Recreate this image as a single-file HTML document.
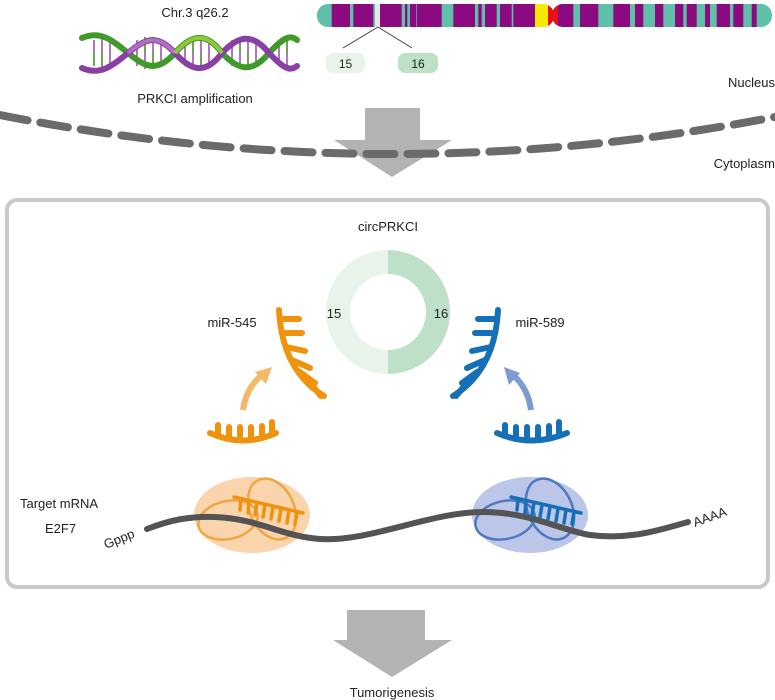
<!DOCTYPE html>
<html><head><meta charset="utf-8"><style>
html,body{margin:0;padding:0;background:#fff;}
svg{display:block;}
text{font-family:"Liberation Sans",Arial,sans-serif;fill:#222;}
</style></head><body>
<svg width="775" height="700" viewBox="0 0 775 700" xmlns="http://www.w3.org/2000/svg">
<!-- Top labels -->
<text x="195" y="17" font-size="13" text-anchor="middle">Chr.3 q26.2</text>
<text x="195" y="103" font-size="13" text-anchor="middle">PRKCI amplification</text>
<text x="775" y="87" font-size="13" text-anchor="end">Nucleus</text>
<text x="775" y="168" font-size="13" text-anchor="end">Cytoplasm</text>

<!-- DNA helix -->
<g stroke-width="1.6">
  <g stroke="#9a55b0">
    <line x1="94" y1="40" x2="94" y2="66"/><line x1="102" y1="37" x2="102" y2="69"/><line x1="110" y1="40" x2="110" y2="66"/>
    <line x1="137" y1="40" x2="137" y2="66"/><line x1="145" y1="37" x2="145" y2="69"/><line x1="153" y1="37" x2="153" y2="69"/><line x1="161" y1="40" x2="161" y2="66"/>
    <line x1="185" y1="40" x2="185" y2="66"/><line x1="193" y1="37" x2="193" y2="69"/><line x1="201" y1="37" x2="201" y2="69"/><line x1="209" y1="40" x2="209" y2="66"/>
    <line x1="232" y1="40" x2="232" y2="66"/><line x1="240" y1="37" x2="240" y2="69"/><line x1="248" y1="37" x2="248" y2="69"/><line x1="256" y1="40" x2="256" y2="66"/>
    <line x1="279" y1="40" x2="279" y2="66"/><line x1="287" y1="38" x2="287" y2="68"/>
  </g>
  <g stroke="#5aa830">
    <line x1="94" y1="53" x2="94" y2="66"/><line x1="102" y1="53" x2="102" y2="69"/><line x1="145" y1="37" x2="145" y2="53"/><line x1="153" y1="53" x2="153" y2="69"/>
    <line x1="193" y1="37" x2="193" y2="53"/><line x1="201" y1="53" x2="201" y2="69"/><line x1="240" y1="37" x2="240" y2="53"/><line x1="248" y1="53" x2="248" y2="69"/><line x1="287" y1="38" x2="287" y2="53"/>
  </g>
</g>
<path d="M82,38 C100,30 112,40 128,53 C144,66 156,74 175,53 C190,36 205,30 222,53 C238,70 252,74 269,53 C283,38 290,34 297,40" fill="none" stroke="#3f9a2a" stroke-width="6" stroke-linecap="round"/>
<path d="M82,68 C100,76 112,66 128,53 C144,40 156,32 175,53 C190,70 205,76 222,53 C238,36 252,32 269,53 C283,68 290,72 297,66" fill="none" stroke="#8a3fa5" stroke-width="6" stroke-linecap="round"/>
<path d="M128,53 C144,40 156,32 175,53" fill="none" stroke="#b070c0" stroke-width="4"/>
<path d="M175,53 C190,36 205,30 222,53" fill="none" stroke="#8fc83a" stroke-width="4"/>

<!-- Chromosome -->
<defs>
  <clipPath id="chr"><rect x="317" y="4" width="237" height="23" rx="11"/><rect x="552" y="4" width="220" height="23" rx="11"/></clipPath>
</defs>
<g clip-path="url(#chr)">
  <rect x="317" y="4" width="455" height="23" fill="#5fbfa8"/>
  <g fill="#8c0a80">
    <rect x="331.7" y="4" width="18.3" height="23"/><rect x="353.3" y="4" width="20" height="23"/><rect x="380" y="4" width="21.7" height="23"/>
    <rect x="405" y="4" width="2.3" height="23"/><rect x="410" y="4" width="6" height="23"/><rect x="416.7" y="4" width="25" height="23"/>
    <rect x="453.3" y="4" width="21.7" height="23"/><rect x="478.3" y="4" width="3.4" height="23"/><rect x="485" y="4" width="11.7" height="23"/>
    <rect x="500" y="4" width="11.7" height="23"/><rect x="513.3" y="4" width="21.7" height="23"/>
    <rect x="558" y="4" width="15.3" height="23"/><rect x="580" y="4" width="18.3" height="23"/><rect x="613.3" y="4" width="16.7" height="23"/>
    <rect x="635" y="4" width="8.3" height="23"/><rect x="655" y="4" width="8.3" height="23"/><rect x="675" y="4" width="8.3" height="23"/>
    <rect x="686.7" y="4" width="10" height="23"/><rect x="705" y="4" width="5" height="23"/><rect x="716.7" y="4" width="13.3" height="23"/>
    <rect x="733.3" y="4" width="10" height="23"/><rect x="751.7" y="4" width="5" height="23"/>
  </g>
  <rect x="375" y="4" width="5" height="23" fill="#e8e8e8"/>
  <rect x="535" y="4" width="13" height="23" fill="#f5ea00"/>
  <rect x="548" y="4" width="10" height="23" fill="#e8101a"/>
</g>
<line x1="378" y1="27" x2="343" y2="48" stroke="#333" stroke-width="0.8"/>
<line x1="378" y1="27" x2="412" y2="48" stroke="#333" stroke-width="0.8"/>
<rect x="326" y="53" width="39" height="20" rx="7" fill="#e8f4ea"/>
<rect x="398" y="53" width="40" height="20" rx="7" fill="#bde0c7"/>
<text x="345.5" y="68" font-size="12" text-anchor="middle">15</text>
<text x="418" y="68" font-size="12" text-anchor="middle">16</text>

<!-- Membrane -->
<path d="M365,108 L420,108 L420,140 L452,140 L392,177 L334,140 L365,140 Z" fill="#b3b3b3"/>
<path d="M0,115 Q388,192 775,117" fill="none" stroke="#6b6b6b" stroke-width="8" stroke-dasharray="28,13" stroke-linecap="round"/>

<!-- Box -->
<rect x="7" y="200" width="761" height="387" rx="10" fill="none" stroke="#c9c9c9" stroke-width="4"/>

<!-- circPRKCI -->
<text x="388" y="231" font-size="13" text-anchor="middle">circPRKCI</text>
<path d="M388,250 A62,62 0 0 0 388,374 L388,350 A38,38 0 0 1 388,274 Z" fill="#e8f4ea"/>
<path d="M388,250 A62,62 0 0 1 388,374 L388,350 A38,38 0 0 0 388,274 Z" fill="#bfe0c8"/>
<text x="334" y="318" font-size="13" text-anchor="middle">15</text>
<text x="441" y="318" font-size="13" text-anchor="middle">16</text>

<text x="232" y="327" font-size="13" text-anchor="middle">miR-545</text>
<text x="540" y="327" font-size="13" text-anchor="middle">miR-589</text>

<!-- orange miRNA -->
<g stroke="#ef930c" stroke-width="6" stroke-linecap="round" fill="none">
  <path d="M279,310 Q282,370 324,396"/>
  <path d="M281,319 L299,319 M282,333 L302,333 M286,347 L305,351 M292,360 L310,368 M300,372 L315,383 M310,383 L321,396"/>
  <path d="M210,433 Q243,448 276,433"/>
  <path d="M218,436 L218,425 M229,439 L229,427 M240,440 L240,427 M251,440 L251,427 M262,438 L262,426 M272,434 L272,422"/>
</g>
<path d="M243,410 Q246,388 262,375" fill="none" stroke="#f5b867" stroke-width="6"/>
<path d="M272,367 L255,372 L266,384 Z" fill="#f5b867"/>

<!-- blue miRNA -->
<g stroke="#1670b8" stroke-width="6" stroke-linecap="round" fill="none">
  <path d="M498,310 Q495,370 453,396"/>
  <path d="M496,319 L478,319 M495,333 L475,333 M491,347 L472,351 M485,360 L467,368 M477,372 L462,383 M467,383 L456,396"/>
  <path d="M497,433 Q532,448 567,433"/>
  <path d="M505,436 L505,425 M516,439 L516,427 M527,440 L527,427 M538,440 L538,427 M549,438 L549,426 M559,434 L559,422"/>
</g>
<path d="M531,410 Q528,388 513,375" fill="none" stroke="#7e9bd1" stroke-width="6"/>
<path d="M504,367 L509,385 L520,373 Z" fill="#7e9bd1"/>

<!-- mRNA region -->
<text x="20" y="508" font-size="13">Target mRNA</text>
<text x="45" y="533" font-size="13">E2F7</text>
<ellipse cx="252" cy="515" rx="58" ry="38" fill="#f8c691" opacity="0.75"/>
<ellipse cx="530" cy="515" rx="58" ry="38" fill="#aab8e2" opacity="0.8"/>
<g fill="none" stroke="#f0a640" stroke-width="2.5">
  <ellipse cx="228" cy="520" rx="30" ry="19" transform="rotate(-12 228 520)"/>
  <ellipse cx="272" cy="509" rx="22" ry="32" transform="rotate(-25 272 509)"/>
</g>
<g fill="none" stroke="#4e78c0" stroke-width="2.5">
  <ellipse cx="505" cy="520" rx="30" ry="19" transform="rotate(-12 505 520)"/>
  <ellipse cx="550" cy="509" rx="22" ry="32" transform="rotate(-25 550 509)"/>
</g>
<path d="M147,529 C170,520 190,516 215,517 C260,519 280,536 320,539 C370,542 430,512 483,512 C530,512 560,530 590,535 C630,540 660,530 688,522" fill="none" stroke="#545454" stroke-width="6" stroke-linecap="round"/>
<g stroke="#ef930c" stroke-width="3.5" stroke-linecap="round" fill="none">
  <path d="M234,497 L303,513"/>
  <path d="M241,499 L240,510 M249,501 L248,513 M257,503 L255,515 M265,505 L263,517 M273,507 L271,519 M281,509 L279,521 M289,510 L287,523 M297,512 L295,524"/>
</g>
<g stroke="#1670b8" stroke-width="3.5" stroke-linecap="round" fill="none">
  <path d="M511,497 L581,513"/>
  <path d="M518,499 L517,510 M526,501 L525,513 M534,503 L532,515 M542,505 L540,517 M550,507 L548,519 M558,509 L556,521 M566,510 L564,523 M574,512 L572,524"/>
</g>
<text x="0" y="0" font-size="13" transform="translate(106,549) rotate(-22)">Gppp</text>
<text x="0" y="0" font-size="13" transform="translate(695,527) rotate(-20)">AAAA</text>

<!-- bottom arrow -->
<path d="M347,610 L425,610 L425,640 L452,640 L392,677 L333,640 L347,640 Z" fill="#b3b3b3"/>
<text x="392" y="697" font-size="13" text-anchor="middle">Tumorigenesis</text>
</svg>
</body></html>
